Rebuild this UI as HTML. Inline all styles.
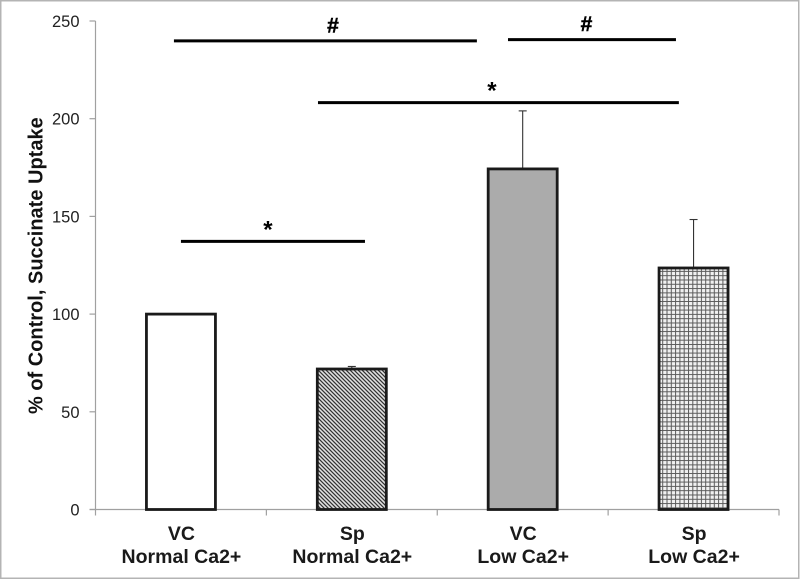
<!DOCTYPE html>
<html lang="en">
<head>
<meta charset="utf-8">
<title>Succinate Uptake Chart</title>
<style>
html,body{margin:0;padding:0;background:#fff;width:800px;height:580px;overflow:hidden}
svg{display:block}
text{font-family:"Liberation Sans",sans-serif}
</style>
</head>
<body>
<svg id="chart" xmlns="http://www.w3.org/2000/svg" width="800" height="580" viewBox="0 0 800 580">
  <defs>
    <pattern id="hatch" patternUnits="userSpaceOnUse" width="4" height="4">
      <rect width="4" height="4" fill="#e2e2e2"/>
      <path d="M-1,-1 L5,5 M-1,3 L1,5 M3,-1 L5,1" stroke="#333" stroke-width="1.25"/>
    </pattern>
    <pattern id="grid" patternUnits="userSpaceOnUse" width="4.3" height="4.3">
      <rect width="4.3" height="4.3" fill="#f0f0f0"/>
      <path d="M0.5,0 V4.3 M0,0.5 H4.3" stroke="#5a5a5a" stroke-width="1"/>
    </pattern>
  </defs>
  <rect x="0.75" y="0.75" width="798" height="577.5" fill="#fff" stroke="#b4b4b4" stroke-width="1.5"/>
  <text transform="translate(42.5,414) rotate(-90)" font-size="20" font-weight="bold" fill="#111">% of Control, Succinate Uptake</text>
</svg>
<script>
const categoryTop = ["VC", "Sp", "VC", "Sp"];
const categoryBottom = ["Normal Ca2+", "Normal Ca2+", "Low Ca2+", "Low Ca2+"];
const barValues = [100, 71.9, 174.3, 123.6];
const errorValues = [0, 1.3, 29.7, 24.8];
const barFills = ["#ffffff", "url(#hatch)", "#ababab", "url(#grid)"];
const barNames = ["bar-vc-normal", "bar-sp-normal", "bar-vc-low", "bar-sp-low"];
const yTicks = [0, 50, 100, 150, 200, 250];
const sigStart = [0.459, 2.414, 1.302, 0.5];
const sigEnd = [2.232, 3.397, 3.414, 1.577];
const sigLevel = [239.8, 240.5, 208.2, 137.2];
const sigSymbol = ["#", "#", "*", "*"];
const sigSymbolAt = [1.39, 2.873, 2.32, 1.009];

const svg = document.getElementById('chart');
const NS = 'http://www.w3.org/2000/svg';
const plotLeft = 95.5, plotRight = 779, plotBottom = 509.5, plotTop = 21;
const yMax = 250;
const barWidth = 69;

function yScale(v) { return plotBottom - (v / yMax) * (plotBottom - plotTop); }
function xScale(p) { return plotLeft + p * (plotRight - plotLeft) / categoryTop.length; }
function make(tag, attrs, parent) {
  const el = document.createElementNS(NS, tag);
  for (const k in attrs) el.setAttribute(k, attrs[k]);
  (parent || svg).appendChild(el);
  return el;
}

// y axis
const yAxisLine = make('line', { x1: plotLeft, x2: plotLeft, y1: yScale(yMax), y2: plotBottom, stroke: '#a0a0a0', 'stroke-width': 1.2 });


yTicks.forEach(function (t) {
  const tick = make('line', { x1: plotLeft - 6, x2: plotLeft, y1: yScale(t), y2: yScale(t), stroke: '#a0a0a0', 'stroke-width': 1.2 });
  
  
  const label = make('text', { x: 79.5, y: yScale(t) + 6, 'text-anchor': 'end', 'font-size': 16.5, fill: '#222' });
  label.textContent = t;
  
  
});

// x axis
const xAxisLine = make('line', { x1: plotLeft - 6, x2: plotRight, y1: plotBottom, y2: plotBottom, stroke: '#a0a0a0', 'stroke-width': 1.2 });


for (let i = 0; i <= categoryTop.length; i++) {
  const tick = make('line', { x1: xScale(i), x2: xScale(i), y1: plotBottom, y2: plotBottom + 6, stroke: '#a0a0a0', 'stroke-width': 1.2 });
  
  
}

// bars, error bars and category labels
barValues.forEach(function (v, i) {
  const cx = xScale(i + 0.5);
  const err = errorValues[i];
  if (err > 0) {
    const stem = make('line', { x1: cx, x2: cx, y1: yScale(v), y2: yScale(v + err), stroke: '#333', 'stroke-width': 1.1 });
    
    
    const cap = make('line', { x1: cx - 4, x2: cx + 4, y1: yScale(v + err), y2: yScale(v + err), stroke: '#333', 'stroke-width': 1.1 });
    
    
  }
  const bar = make('rect', { x: cx - barWidth / 2, y: yScale(v), width: barWidth, height: plotBottom - yScale(v), fill: barFills[i], stroke: '#1a1a1a', 'stroke-width': 2.8 });
  
  
  const top = make('text', { x: cx + 0.5, y: 540, 'text-anchor': 'middle', 'font-size': 19.5, 'font-weight': 'bold', fill: '#1a1a1a' });
  top.textContent = categoryTop[i];
  
  
  const bottom = make('text', { x: cx + 0.5, y: 563, 'text-anchor': 'middle', 'font-size': 19.5, 'font-weight': 'bold', fill: '#1a1a1a' });
  bottom.textContent = categoryBottom[i];
  
  
});

// significance annotations
sigStart.forEach(function (s, i) {
  const ly = yScale(sigLevel[i]);
  const line = make('line', { x1: xScale(s), x2: xScale(sigEnd[i]), y1: ly, y2: ly, stroke: '#000', 'stroke-width': 3 });
  
  
  const isStar = sigSymbol[i] === '*';
  const sym = make('text', { x: xScale(sigSymbolAt[i]), y: isStar ? ly - 4 : ly - 8.5, 'text-anchor': 'middle', 'font-size': isStar ? 24 : 21, 'font-weight': 'bold', fill: '#000', stroke: isStar ? 'none' : '#000', 'stroke-width': isStar ? 0 : 0.5 });
  sym.textContent = sigSymbol[i];
  
  
});
</script>
</body>
</html>
